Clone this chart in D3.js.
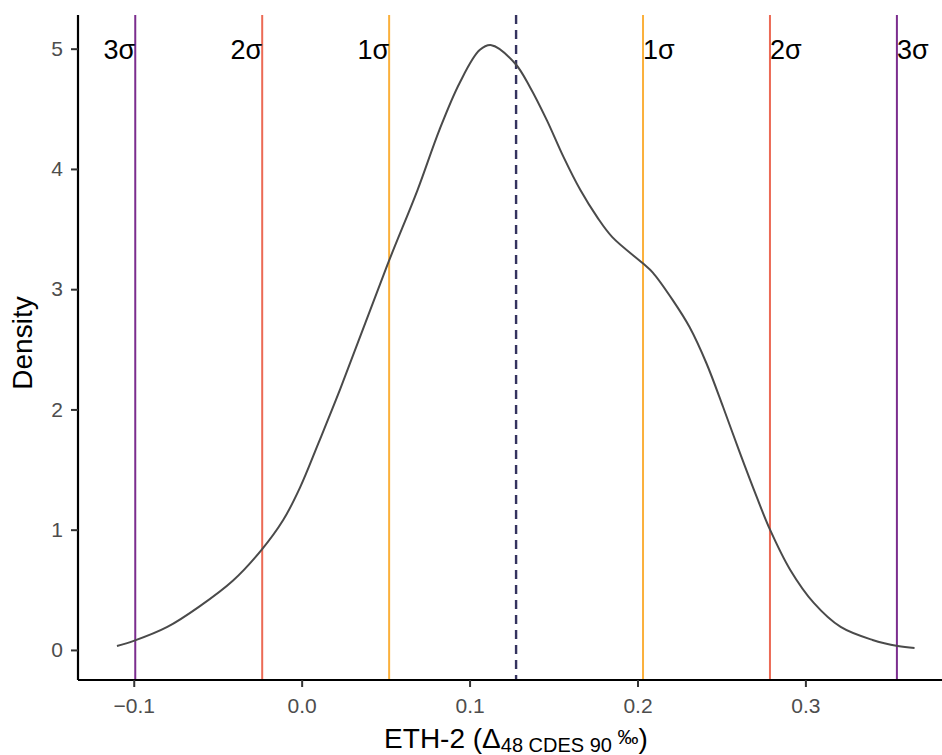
<!DOCTYPE html>
<html>
<head>
<meta charset="utf-8">
<script src="https://cdn.jsdelivr.net/npm/d3@7"></script>
<style>
  body { margin: 0; background: #fff; }
  text { font-family: "Liberation Sans", Arial, Helvetica, sans-serif; }
</style>
</head>
<body>
<script>
// density curve
const densX = [-0.110, -0.100, -0.080, -0.061, -0.041, -0.024, -0.011, -0.001, 0.010, 0.023,
  0.051, 0.069, 0.082, 0.094, 0.106, 0.113, 0.127, 0.136, 0.146, 0.156, 0.166, 0.176,
  0.185, 0.203, 0.209, 0.221, 0.231, 0.241, 0.251, 0.261, 0.271, 0.279, 0.291, 0.305,
  0.321, 0.340, 0.355, 0.365];
const densY = [0.033, 0.075, 0.191, 0.360, 0.575, 0.830, 1.080, 1.350, 1.720, 2.170,
  3.200, 3.824, 4.323, 4.713, 4.988, 5.029, 4.879, 4.680, 4.406, 4.098, 3.824, 3.599,
  3.433, 3.217, 3.140, 2.909, 2.685, 2.386, 2.020, 1.638, 1.272, 0.998, 0.665, 0.391,
  0.191, 0.083, 0.033, 0.017];

const meanVal = 0.1277;
const sdVal = 0.0756;
const sigmaLabels = ["1σ", "2σ", "3σ"];
const sigmaColors = ["#fbb03b", "#ec6a55", "#7b2d8e"];

const xTicks = [-0.1, 0.0, 0.1, 0.2, 0.3];
const yTicks = [0, 1, 2, 3, 4, 5];

const W = 942, H = 755;
let svg = d3.select("body").append("svg")
  .attr("width", W).attr("height", H);

let panel = { left: 78, right: 955, top: 15, bottom: 680 };

let x = d3.scaleLinear().domain([-0.1332, 0.3891]).range([panel.left, panel.right]);
let y = d3.scaleLinear().domain([-0.25, 5.28]).range([panel.bottom, panel.top]);

// sigma lines
let lines = [];
sigmaLabels.forEach((lab, i) => {
  lines.push({ v: meanVal - (i + 1) * sdVal, lab: lab, col: sigmaColors[i], side: "lo" });
  lines.push({ v: meanVal + (i + 1) * sdVal, lab: lab, col: sigmaColors[i], side: "hi" });
});

svg.append("g").selectAll("line").data(lines).enter().append("line")
  .attr("x1", d => x(d.v)).attr("x2", d => x(d.v))
  .attr("y1", panel.top).attr("y2", panel.bottom)
  .attr("stroke", d => d.col).attr("stroke-width", 2);

// mean line
svg.append("line")
  .attr("x1", x(meanVal)).attr("x2", x(meanVal))
  .attr("y1", panel.top).attr("y2", panel.bottom)
  .attr("stroke", "#35335f").attr("stroke-width", 2.4)
  .attr("stroke-dasharray", "9,6");

// density curve
let pts = densX.map((v, i) => [v, densY[i]]);
svg.append("path")
  .datum(pts)
  .attr("d", d3.line().x(d => x(d[0])).y(d => y(d[1])).curve(d3.curveCatmullRom))
  .attr("fill", "none").attr("stroke", "#4a4a4a").attr("stroke-width", 2);

// sigma labels
svg.append("g").selectAll("text").data(lines).enter().append("text")
  .attr("x", d => x(d.v))
  .attr("y", y(5) + 10)
  .attr("text-anchor", d => d.side == "lo" ? "end" : "start")
  .attr("font-size", 27)
  .attr("fill", "#000")
  .text(d => d.lab);

// axes
let xAxis = svg.append("g")
  .attr("transform", `translate(0,${panel.bottom})`)
  .call(d3.axisBottom(x).tickValues(xTicks).tickSize(7).tickPadding(11).tickFormat(d3.format(".1f")));
let yAxis = svg.append("g")
  .attr("transform", `translate(${panel.left},0)`)
  .call(d3.axisLeft(y).tickValues(yTicks).tickSize(7).tickPadding(8).tickFormat(d3.format("d")));

[xAxis, yAxis].forEach(a => {
  a.select(".domain").attr("stroke", "#000").attr("stroke-width", 2.2);
  a.selectAll(".tick line").attr("stroke", "#333").attr("stroke-width", 2);
  a.selectAll(".tick text").attr("fill", "#4d4d4d").attr("font-size", 21)
    .attr("font-family", "'Liberation Sans', Arial, sans-serif");
});
xAxis.select(".domain").attr("d", `M${panel.left},0H${W}`);
yAxis.select(".domain").attr("d", `M0,${panel.top}V${panel.bottom}`);

// axis titles
svg.append("text")
  .attr("transform", `translate(32,343) rotate(-90)`)
  .attr("text-anchor", "middle")
  .attr("font-size", 28)
  .text("Density");

let xt = svg.append("text")
  .attr("x", 516).attr("y", 748)
  .attr("text-anchor", "middle")
  .attr("font-size", 28);
xt.append("tspan").text("ETH-2 (Δ");
xt.append("tspan").attr("font-size", 20).attr("dy", 4).text("48 CDES 90 ");
xt.append("tspan").attr("font-size", 21).attr("dy", -8).text("‰");
xt.append("tspan").attr("dy", 4).text(")");
</script>
</body>
</html>
